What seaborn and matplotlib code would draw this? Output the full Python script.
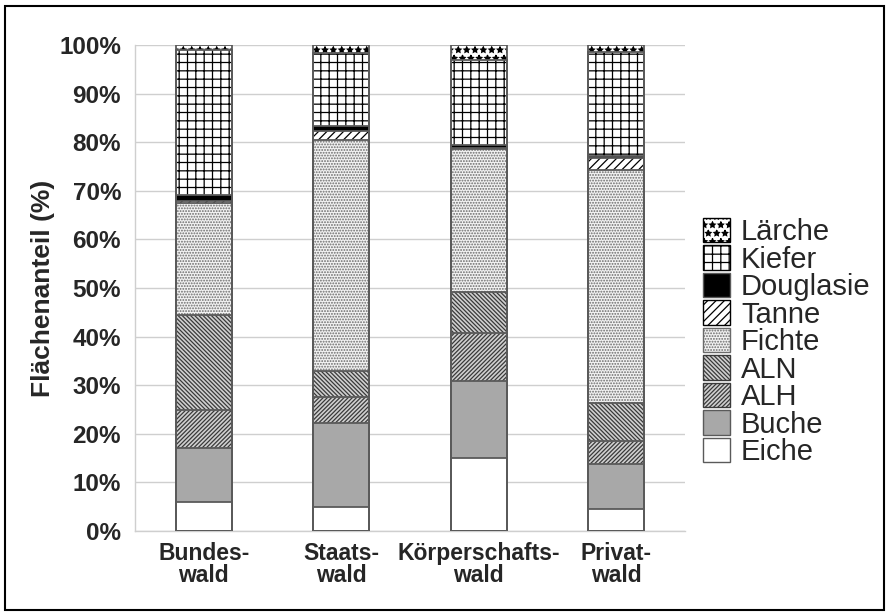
import matplotlib
matplotlib.use('Agg')
import matplotlib.pyplot as plt
from matplotlib.patches import Patch, Rectangle
from matplotlib.ticker import FixedLocator, PercentFormatter
import numpy as np
import seaborn as sns

# Daten: Flächenanteile (%) nach Eigentumsart, von unten nach oben gestapelt
kategorien = ['Bundeswald', 'Staatswald', 'Körperschaftswald', 'Privatwald']
tick_labels = ['Bundes-\nwald', 'Staats-\nwald', 'Körperschafts-\nwald', 'Privat-\nwald']
baumarten = ['Eiche', 'Buche', 'ALH', 'ALN', 'Fichte', 'Tanne', 'Douglasie', 'Kiefer', 'Lärche']

eiche = [6.0, 5.0, 15.0, 4.5]
buche = [11.0, 17.2, 15.9, 9.2]
alh = [8.0, 5.3, 9.8, 4.8]
aln = [19.5, 5.5, 8.5, 7.9]
fichte = [23.0, 47.5, 29.5, 47.9]
tanne = [0.5, 1.8, 0.2, 2.5]
douglasie = [1.2, 1.0, 0.6, 0.3]
kiefer = [29.8, 15.1, 17.4, 21.4]
laerche = [1.0, 1.6, 3.1, 1.5]

werte = [eiche, buche, alh, aln, fichte, tanne, douglasie, kiefer, laerche]

# Füllung: (Flächenfarbe, Schraffur, Schraffurfarbe)
stile = {
    'Eiche': ('white', None, '#555555'),
    'Buche': ('#a8a8a8', None, '#555555'),
    'ALH': ('#d0d0d0', '////////', '#3a3a3a'),
    'ALN': ('#d0d0d0', '\\\\\\\\\\\\\\\\', '#3a3a3a'),
    'Fichte': ('#f2f2f2', '......', '#6a6a6a'),
    'Tanne': ('white', '////', 'black'),
    'Douglasie': ('black', None, 'black'),
    'Kiefer': ('white', '++', 'black'),
    'Lärche': ('white', '**', 'black'),
}

sns.set_style('white')
plt.rcParams['font.family'] = ['Liberation Sans', 'DejaVu Sans']
plt.rcParams['hatch.linewidth'] = 0.9

fig = plt.figure(figsize=(8.89, 6.15), dpi=100)
ax = fig.add_axes([135 / 889, 84 / 615, 550 / 889, 486 / 615])

kumuliert = np.cumsum(np.array(werte), axis=0)
breite = 0.41

# gestapelte Balken: von oben nach unten zeichnen, jeweils kumulierte Höhe
for i in range(len(baumarten) - 1, -1, -1):
    name = baumarten[i]
    fc, hatch, hc = stile[name]
    sns.barplot(x=kategorien, y=kumuliert[i], ax=ax, color=fc, saturation=1,
                width=breite, errorbar=None, hatch=hatch, edgecolor=hc,
                linewidth=0, zorder=3)

# Umrisse der Segmente
pos = np.arange(len(kategorien))
for i in range(len(baumarten)):
    ax.bar(pos, kumuliert[i], width=breite, fill=False, edgecolor='#5a5a5a',
           linewidth=1.3, zorder=4)

ax.set_ylim(0, 100)
ax.set_xlim(-0.5, len(kategorien) - 0.5)
ax.yaxis.set_major_locator(FixedLocator(np.arange(0, 101, 10)))
ax.yaxis.set_major_formatter(PercentFormatter(decimals=0))
ax.grid(axis='y', color='#cfcfcf', linewidth=1, zorder=0)
ax.set_axisbelow(True)

ax.set_xticks(pos)
ax.set_xticklabels(tick_labels, fontsize=16.5, fontweight='bold', linespacing=0.92)
ax.xaxis.set_minor_locator(FixedLocator(np.arange(-0.5, len(kategorien), 1)))
ax.tick_params(axis='x', which='major', length=0, pad=8)
ax.tick_params(axis='x', which='minor', length=4, color='#cfcfcf', width=1)
ax.tick_params(axis='y', which='major', length=6, color='#cfcfcf', width=1,
               labelsize=17.5, pad=4)
for lbl in ax.get_yticklabels():
    lbl.set_fontweight('bold')

ax.set_xlabel('')
ax.set_ylabel('Flächenanteil (%)', fontsize=19, fontweight='bold', labelpad=3)

for side in ['top', 'right']:
    ax.spines[side].set_visible(False)
for side in ['left', 'bottom']:
    ax.spines[side].set_color('#cfcfcf')
    ax.spines[side].set_linewidth(1)

# Legende (oben Lärche, unten Eiche)
handles = []
for name in baumarten[::-1]:
    fc, hatch, hc = stile[name]
    ec = hc if hatch else '#5a5a5a'
    handles.append(Patch(facecolor=fc, hatch=hatch, edgecolor=ec, linewidth=1,
                         label=name))
fig.legend(handles=handles, loc='center left', bbox_to_anchor=(703 / 889, 0.444),
           frameon=False, fontsize=21, labelspacing=-0.03, handlelength=0.92,
           handleheight=0.92, handletextpad=0.38, borderpad=0, borderaxespad=0)

# Rahmen um die ganze Abbildung
fig.patches.append(Rectangle((5 / 889, 5 / 615), 879 / 889, 604 / 615,
                             transform=fig.transFigure, fill=False,
                             edgecolor='black', linewidth=1.5))

fig.savefig('out.png', dpi=100)
